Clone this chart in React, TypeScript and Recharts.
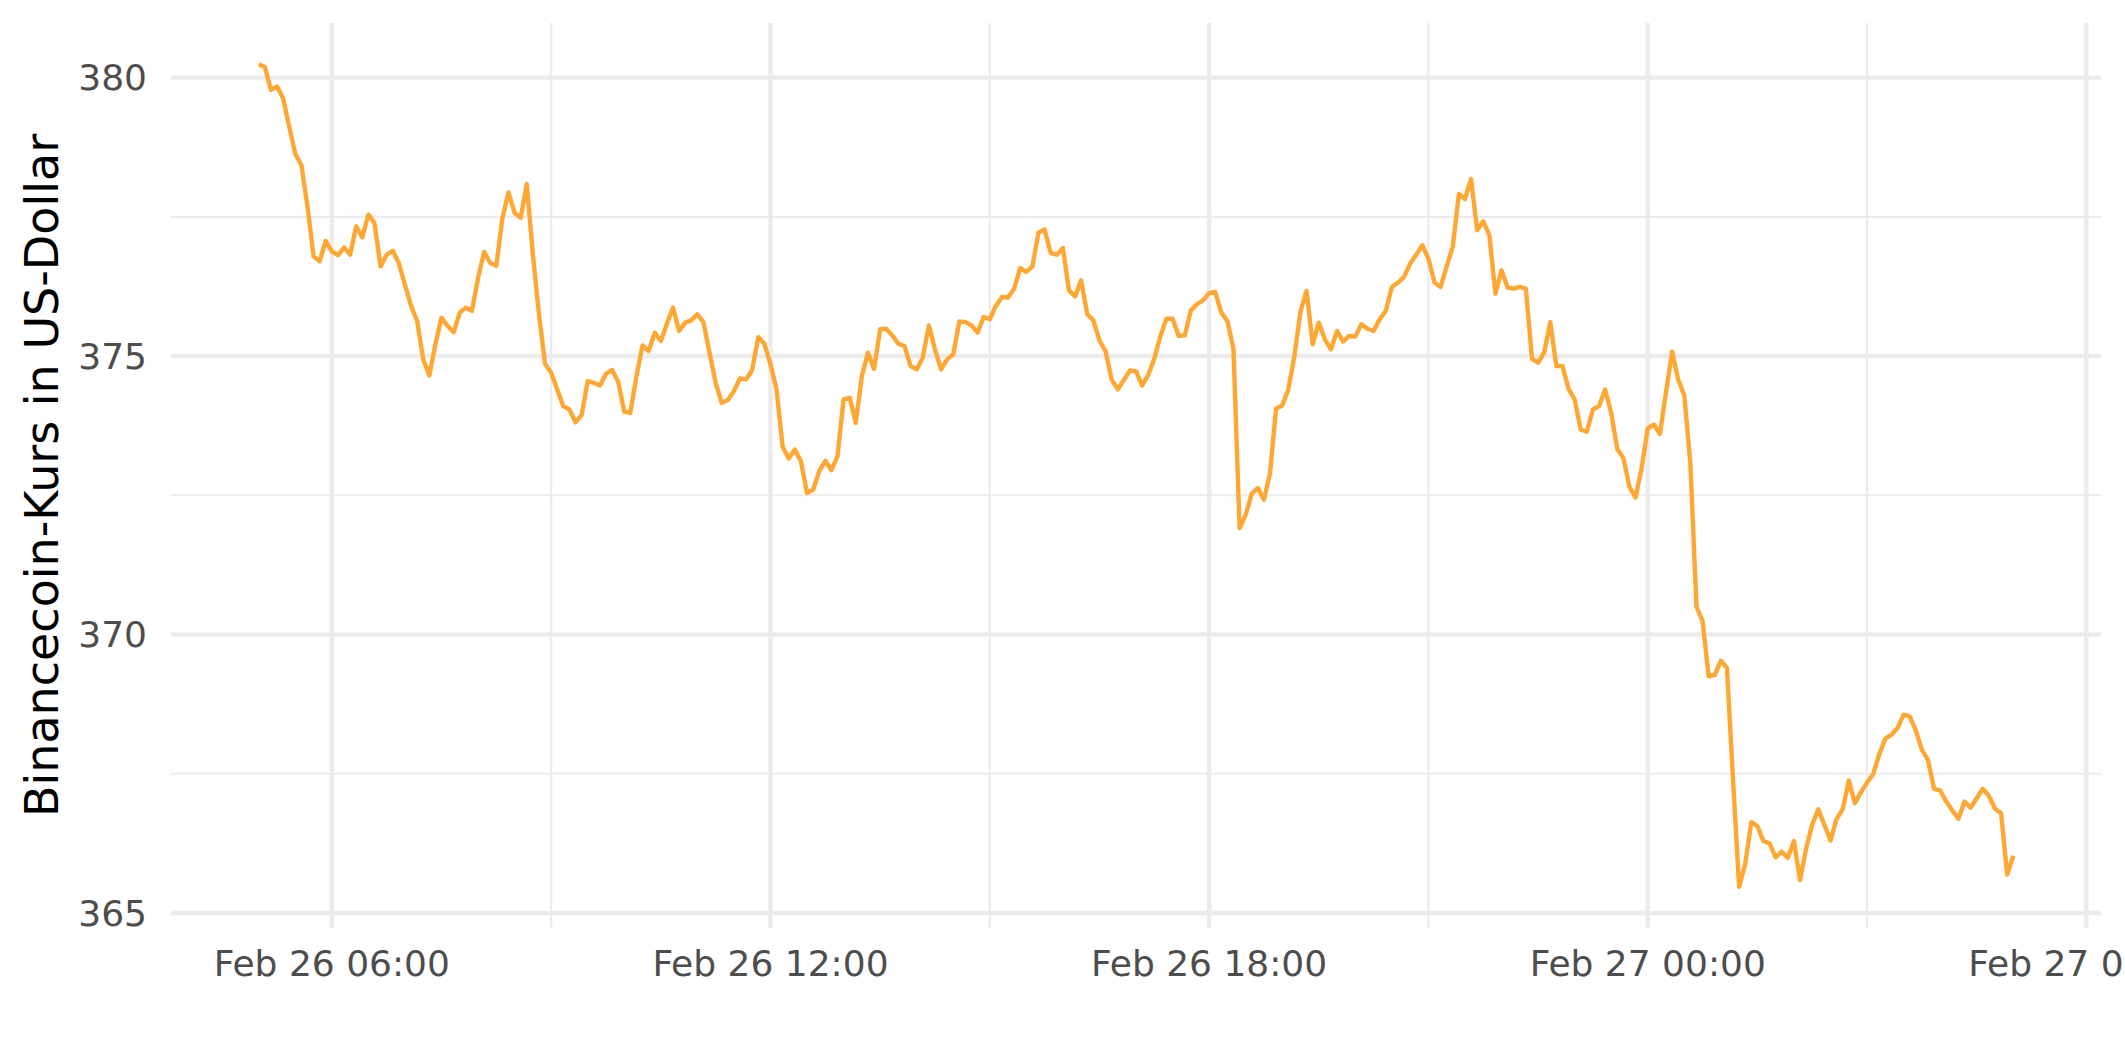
import { CartesianGrid, Line, LineChart, XAxis, YAxis } from "recharts"

// Binancecoin price, 5-minute steps from Feb 26 05:00 to Feb 27 05:00
const startHour = 5
const stepMinutes = 5

const prices = [
	380.24, 380.19, 379.78, 379.84, 379.63, 379.12, 378.63, 378.43, 377.69, 376.79, 376.7, 377.07,
	376.88, 376.81, 376.95, 376.82, 377.33, 377.13, 377.54, 377.39, 376.61, 376.82, 376.89, 376.67,
	376.28, 375.9, 375.63, 374.94, 374.65, 375.21, 375.69, 375.54, 375.43, 375.78, 375.87, 375.81,
	376.4, 376.87, 376.67, 376.62, 377.48, 377.94, 377.57, 377.48, 378.09, 376.82, 375.75, 374.86,
	374.7, 374.4, 374.1, 374.04, 373.81, 373.94, 374.55, 374.52, 374.47, 374.68, 374.75, 374.54,
	374.0, 373.98, 374.64, 375.19, 375.09, 375.42, 375.27, 375.58, 375.87, 375.45, 375.6, 375.64,
	375.75, 375.61, 375.06, 374.52, 374.16, 374.21, 374.37, 374.6, 374.58, 374.75, 375.34, 375.22,
	374.85, 374.4, 373.37, 373.16, 373.32, 373.11, 372.54, 372.6, 372.93, 373.12, 372.95, 373.2,
	374.22, 374.25, 373.8, 374.64, 375.06, 374.77, 375.48, 375.49, 375.37, 375.22, 375.18, 374.82,
	374.76, 374.97, 375.55, 375.12, 374.76, 374.94, 375.03, 375.62, 375.61, 375.55, 375.42, 375.7,
	375.66, 375.9, 376.06, 376.05, 376.21, 376.58, 376.51, 376.61, 377.22, 377.27, 376.85, 376.82,
	376.94, 376.18, 376.07, 376.36, 375.75, 375.64, 375.28, 375.09, 374.58, 374.4, 374.57, 374.74,
	374.73, 374.47, 374.66, 374.95, 375.36, 375.67, 375.67, 375.36, 375.37, 375.82, 375.93, 376.0,
	376.13, 376.15, 375.78, 375.63, 375.13, 371.91, 372.15, 372.53, 372.63, 372.42, 372.9, 374.06,
	374.11, 374.4, 375.0, 375.8, 376.17, 375.21, 375.6, 375.3, 375.12, 375.45, 375.26, 375.36,
	375.35, 375.57, 375.49, 375.45, 375.66, 375.81, 376.24, 376.32, 376.42, 376.66, 376.82, 376.99,
	376.75, 376.32, 376.24, 376.61, 376.97, 377.91, 377.82, 378.18, 377.26, 377.42, 377.17, 376.12,
	376.54, 376.23, 376.21, 376.24, 376.21, 374.95, 374.88, 375.06, 375.61, 374.82, 374.82, 374.41,
	374.22, 373.68, 373.64, 374.04, 374.1, 374.4, 373.98, 373.33, 373.17, 372.65, 372.46, 372.99,
	373.7, 373.77, 373.6, 374.35, 375.08, 374.58, 374.29, 373.07, 370.5, 370.24, 369.25, 369.27,
	369.53, 369.4, 367.39, 365.47, 365.88, 366.63, 366.56, 366.29, 366.25, 366.0, 366.1, 365.99,
	366.29, 365.59, 366.16, 366.59, 366.86, 366.58, 366.3, 366.69, 366.86, 367.38, 366.97, 367.17,
	367.34, 367.49, 367.85, 368.13, 368.2, 368.32, 368.56, 368.53, 368.28, 367.93, 367.75, 367.23,
	367.2, 367.0, 366.84, 366.69, 367.0, 366.89, 367.06, 367.23, 367.1, 366.87, 366.79, 365.69,
	366.03,
]

// hours counted from Feb 26 00:00
const xTicks = [6, 12, 18, 24, 30]
const xTickLabels = ["Feb 26 06:00", "Feb 26 12:00", "Feb 26 18:00", "Feb 27 00:00", "Feb 27 06:00"]
const xMinor = [9, 15, 21, 27]
const yTicks = [365, 370, 375, 380]
const yMinor = [367.5, 372.5, 377.5]

const chartData = prices.map((price, i) => ({
	t: startHour + (i * stepMinutes) / 60,
	price,
}))

const gridColor = "#EBEBEB"
const tickStyle = { fill: "#4D4D4D", fontSize: 36, fontFamily: "DejaVu Sans" }

const YTitle = (props: any) => {
	const vb = props.viewBox || {}
	const cx = 58
	const cy = (vb.y || 0) + (vb.height || 0) / 2
	return (
		<text
			x={cx}
			y={cy}
			transform={`rotate(-90, ${cx}, ${cy})`}
			textAnchor="middle"
			fill="#000000"
			fontSize={46}
			fontFamily="DejaVu Sans"
		>
			Binancecoin-Kurs in US-Dollar
		</text>
	)
}

export default function App() {
	return (
		<div style={{ position: "absolute", left: 0, top: 0, background: "#FFFFFF" }}>
			<LineChart
				width={2125}
				height={1062}
				data={chartData}
				margin={{ top: 23, right: 24, left: 0, bottom: 0 }}
			>
				{/* minor grid first, then major, like ggplot */}
				<CartesianGrid
					stroke={gridColor}
					strokeWidth={2.2}
					horizontalValues={yMinor}
					verticalValues={xMinor}
					syncWithTicks
				/>
				<CartesianGrid stroke={gridColor} strokeWidth={4.4} syncWithTicks />
				<XAxis
					dataKey="t"
					type="number"
					domain={[3.8, 30.2]}
					allowDataOverflow
					ticks={xTicks}
					interval={0}
					tickFormatter={(v: number) => xTickLabels[xTicks.indexOf(v)] ?? ""}
					axisLine={false}
					tickLine={false}
					tickSize={0}
					tickMargin={22}
					height={134}
					tick={tickStyle}
				/>
				<YAxis
					type="number"
					domain={[364.73, 380.98]}
					allowDataOverflow
					ticks={yTicks}
					interval={0}
					axisLine={false}
					tickLine={false}
					tickSize={0}
					tickMargin={24}
					width={171}
					tick={tickStyle}
					label={<YTitle />}
				/>
				<Line
					type="linear"
					dataKey="price"
					stroke="#FFA733"
					strokeWidth={4.4}
					strokeLinejoin="round"
					dot={false}
					activeDot={false}
					isAnimationActive={false}
				/>
			</LineChart>
		</div>
	)
}
